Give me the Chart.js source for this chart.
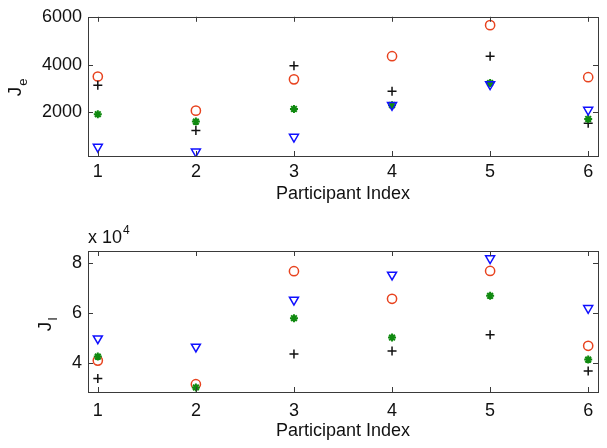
<!DOCTYPE html>
<html>
<head>
<meta charset="utf-8">
<script src="https://cdn.jsdelivr.net/npm/chart.js@4/dist/chart.umd.min.js"></script>
<style>
  html, body { margin: 0; padding: 0; background: #fff; }
  .panel { position: absolute; left: 0; width: 607px; height: 224px; }
</style>
</head>
<body>
<div class="panel" style="top:0"><canvas id="jeChart"></canvas></div>
<div class="panel" style="top:224px"><canvas id="jiChart"></canvas></div>
<script>
  /* ========= Data ========= */
  const participants = [1, 2, 3, 4, 5, 6];
  const xTicks = [1, 2, 3, 4, 5, 6];

  // J_e (top panel)
  const jeCircle   = [3500, 2070, 3380, 4350, 5650, 3470];
  const jePlus     = [3130, 1240, 3950, 2880, 4350, 1540];
  const jeStar     = [1920, 1610, 2140, 2300, 3230, 1720];
  const jeTriangle = [550, 350, 970, 2300, 3170, 2100];
  const jeTicks    = [2000, 4000, 6000];

  // J_I (bottom panel), plus marker for participant 2 falls below the axis
  const jiCircle   = [41000, 31600, 76600, 65600, 76700, 46900];
  const jiPlus     = [33900, null, 43600, 44800, 51300, 36900];
  const jiStar     = [42600, 30300, 57900, 50200, 66800, 41400];
  const jiTriangle = [49800, 46500, 65200, 75200, 81700, 61900];
  const jiTicks    = [40000, 60000, 80000];

  const FONT = "'Liberation Sans', Arial, Helvetica, sans-serif";
  const BOX = "#3a3a3a";

  function pts(ys) { return participants.map((x, i) => ({ x: x, y: ys[i] })); }

  function series(circle, plus, star, tri) {
    // first dataset is drawn on top
    return [
      { label: "tri", data: pts(tri), pointStyle: "triangle", rotation: 180, pointRadius: 5.2,
        borderColor: "#1010ff", backgroundColor: "transparent", pointBorderWidth: 1.5 },
      { label: "star", data: pts(star), pointStyle: "star", pointRadius: 4,
        borderColor: "#108a10", backgroundColor: "#108a10", pointBorderWidth: 2 },
      { label: "plus", data: pts(plus), pointStyle: "cross", pointRadius: 4.5,
        borderColor: "#111", backgroundColor: "transparent", pointBorderWidth: 1.5 },
      { label: "circle", data: pts(circle), pointStyle: "circle", pointRadius: 4.6,
        borderColor: "#e8431f", backgroundColor: "transparent", pointBorderWidth: 1.5 }
    ];
  }

  /* ========= Box, inward ticks, y label ========= */
  const frame = {
    id: "frame",
    afterDraw(chart, args, opts) {
      const { ctx, chartArea: a, scales } = chart;
      ctx.save();
      ctx.strokeStyle = BOX;
      ctx.lineWidth = 1;
      ctx.strokeRect(Math.round(a.left) + 0.5, Math.round(a.top) + 0.5,
        Math.round(a.right - a.left), Math.round(a.bottom - a.top));
      ctx.beginPath();
      scales.x.ticks.forEach(t => {
        const px = Math.round(scales.x.getPixelForValue(t.value)) + 0.5;
        ctx.moveTo(px, a.bottom); ctx.lineTo(px, a.bottom - 5);
        ctx.moveTo(px, a.top); ctx.lineTo(px, a.top + 5);
      });
      scales.y.ticks.forEach(t => {
        const py = Math.round(scales.y.getPixelForValue(t.value)) + 0.5;
        ctx.moveTo(a.left, py); ctx.lineTo(a.left + 5, py);
        ctx.moveTo(a.right, py); ctx.lineTo(a.right - 5, py);
      });
      ctx.stroke();

      // rotated y label with subscript
      ctx.fillStyle = "#111";
      ctx.translate(opts.labelX, (a.top + a.bottom) / 2);
      ctx.rotate(-Math.PI / 2);
      ctx.textBaseline = "alphabetic";
      ctx.font = "19px " + FONT;
      const w = ctx.measureText("J").width;
      ctx.textAlign = "left";
      ctx.fillText("J", -w / 2 - 5, 0);
      ctx.font = "13px " + FONT;
      ctx.fillText(opts.sub, w / 2 - 4, 6);
      ctx.restore();

      if (opts.exponent) {
        ctx.save();
        ctx.fillStyle = "#111";
        ctx.textBaseline = "alphabetic";
        ctx.font = "18px " + FONT;
        const base = "x 10";
        ctx.fillText(base, a.left, a.top - 8);
        const bw = ctx.measureText(base).width;
        ctx.font = "12px " + FONT;
        ctx.fillText("4", a.left + bw + 1, a.top - 17);
        ctx.restore();
      }
    }
  };

  function makeChart(id, data, yMin, yMax, yTicks, fmt, plotTop, plotBottom, tickPad, titlePad, labelX, sub, exponent) {
    return new Chart(document.getElementById(id), {
      type: "scatter",
      data: { datasets: data },
      plugins: [frame],
      options: {
        responsive: true,
        maintainAspectRatio: false,
        animation: false,
        layout: { padding: { top: plotTop, right: 9, left: 0, bottom: 0 } },
        plugins: {
          legend: { display: false },
          tooltip: { enabled: false },
          frame: { labelX: labelX, sub: sub, exponent: exponent }
        },
        scales: {
          x: {
            type: "linear",
            min: 0.9, max: 6.1,
            grid: { display: false, drawTicks: false },
            border: { display: false },
            afterBuildTicks: s => { s.ticks = xTicks.map(v => ({ value: v })); },
            afterFit: s => { s.height = 224 - plotBottom; },
            ticks: { color: "#111", font: { family: FONT, size: 18 }, padding: tickPad, maxRotation: 0 },
            title: { display: true, text: "Participant Index", color: "#111",
                     font: { family: FONT, size: 18 }, padding: { top: 0, bottom: titlePad } }
          },
          y: {
            type: "linear",
            min: yMin, max: yMax,
            grid: { display: false, drawTicks: false },
            border: { display: false },
            afterBuildTicks: s => { s.ticks = yTicks.map(v => ({ value: v })); },
            afterFit: s => { s.width = 88; },
            ticks: { color: "#111", font: { family: FONT, size: 18 }, padding: 6, callback: fmt }
          }
        }
      }
    });
  }

  makeChart("jeChart", series(jeCircle, jePlus, jeStar, jeTriangle),
    170, 6000, jeTicks, v => String(v), 15, 156, 5, 19, 21, "e", false);

  makeChart("jiChart", series(jiCircle, jiPlus, jiStar, jiTriangle),
    28500, 84650, jiTicks, v => String(v / 10000), 27, 168, 8, 6, 51, "I", true);
</script>
</body>
</html>
